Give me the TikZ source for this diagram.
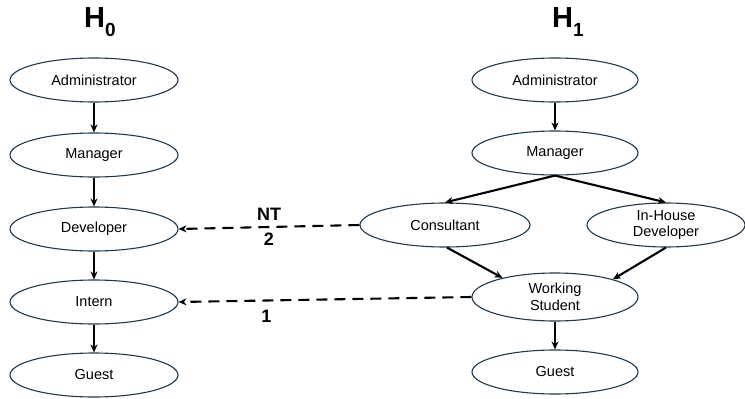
\documentclass[tikz,border=0pt]{standalone}
\usepackage{fontspec}
\setmainfont{Liberation Sans}
\usetikzlibrary{shapes.geometric,arrows.meta}
\definecolor{rim}{RGB}{32,56,76}
\tikzset{
  role/.style={ellipse, draw=rim, line width=1.1pt, minimum width=168pt,
    minimum height=44pt, inner sep=0pt, align=center, font=\fontsize{14.5}{16.5}\selectfont},
  arr/.style={-{Stealth[length=8pt,width=7pt]}, line width=2.1pt},
  back/.style={arr, dashed, dash pattern=on 11pt off 7pt},
  num/.style={font=\fontsize{18}{20}\selectfont\bfseries}
}
\newcommand{\hyp}[1]{\fontsize{29}{32}\selectfont\bfseries H\raisebox{-0.3em}{\fontsize{19}{21}\selectfont #1}}
\begin{document}
\begin{tikzpicture}[x=1pt,y=-1pt]
\useasboundingbox (0,0) rectangle (745,399);
\node (h0) at (100,22) {\hyp{0}};
\node (h1) at (568,22) {\hyp{1}};
% left chain
\foreach \y/\n/\t in {80/la/Administrator, 155/lm/Manager, 229/ld/Developer, 302/li/Intern, 375/lg/Guest}
  \node[role] (\n) at (94,\y) {\t};
\foreach \a/\b in {la/lm, lm/ld, ld/li, li/lg}
  \draw[arr] (\a) -- (\b);
% right tree
\node[role, minimum width=166pt] (ra) at (555,80) {Administrator};
\node[role, minimum width=166pt] (rm) at (555,153) {Manager};
\node[role, minimum width=170pt] (rc) at (445,225) {Consultant};
\node[role, minimum width=158pt] (rh) at (666,225) {In-House\\Developer};
\node[role, minimum width=166pt, minimum height=48pt] (rw) at (555,297) {Working\\Student};
\node[role, minimum width=166pt] (rg) at (555,372) {Guest};
\draw[arr] (ra) -- (rm);
\draw[arr] (rm.south) -- (rc.north);
\draw[arr] (rm.south) -- (rh.north);
\draw[arr] (rc.-85) -- (rw.160);
\draw[arr] (rh.south) -- (rw.17);
\draw[arr] (rw) -- (rg);
% mappings
\draw[back] (rc.west) -- (ld.east)
  node[midway, above=2pt, num] {NT} node[midway, below=2pt, num] {2};
\draw[back] (rw.west) -- (li.east) node[pos=0.7, below=5pt, num] {1};
\end{tikzpicture}
\end{document}
